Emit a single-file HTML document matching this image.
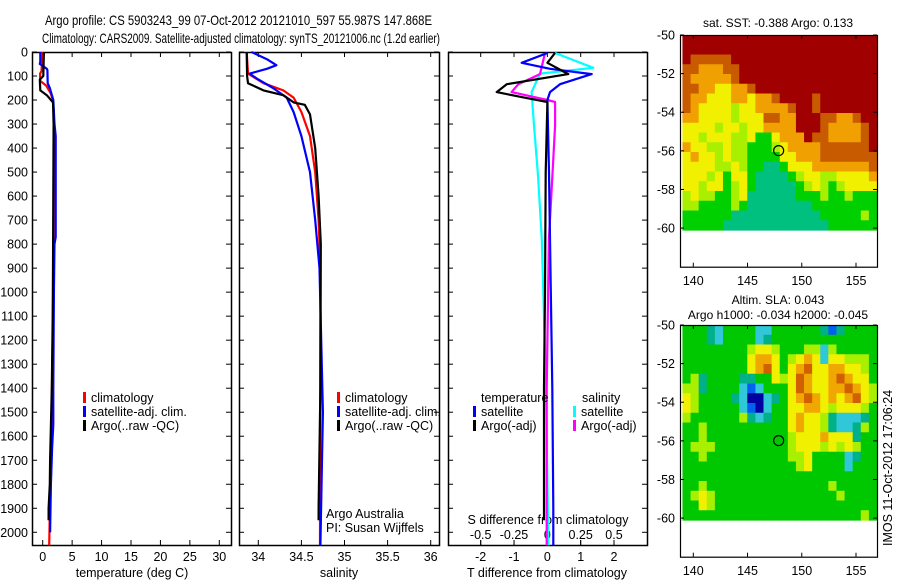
<!DOCTYPE html>
<html><head><meta charset="utf-8">
<style>
html,body{margin:0;padding:0;background:#fff;}
svg{display:block;font-family:"Liberation Sans",sans-serif;}
text{fill:#000;}
</style></head>
<body>
<svg id="fig" width="900" height="580" viewBox="0 0 900 580" xmlns="http://www.w3.org/2000/svg">
<text x="45" y="25" font-size="14" textLength="387" lengthAdjust="spacingAndGlyphs">Argo profile: CS 5903243_99 07-Oct-2012 20121010_597 55.987S 147.868E</text>
<text x="42" y="43" font-size="14" textLength="398" lengthAdjust="spacingAndGlyphs">Climatology: CARS2009. Satellite-adjusted climatology: synTS_20121006.nc (1.2d earlier)</text>
<g id="g"></g>
</svg>
<script>
// ---------- data ----------
var depthTicks=[0,100,200,300,400,500,600,700,800,900,1000,1100,1200,1300,1400,1500,1600,1700,1800,1900,2000];
var tempTicks=[0,5,10,15,20,25,30];
var salTicks=[34,34.5,35,35.5,36];
var tdiffTicks=[-2,-1,0,1,2];
var sdiffTicks=[-0.5,-0.25,0,0.25,0.5];
var sdiffTickLabels=["-0.5","-0.25","0","0.25","0.5"];

var climDepth=[0,80,90,120,140,170,200,260,400,800,1200,1600,2054];
var climTemp=[0.0,-0.2,-0.45,-0.45,0.6,1.3,1.75,1.9,1.9,1.85,1.7,1.45,1.1];
var satDepth=[0,40,50,70,75,130,150,200,300,350,770,800,1000,1400,1550,1650,1800,2000];
var satTemp=[-0.4,-0.4,-0.5,0.7,0.8,0.85,1.2,1.8,2.0,2.2,2.2,2.0,1.9,1.8,1.8,1.6,1.4,1.25];
var argoDepth=[0,100,115,160,180,210,300,600,900,1100,1400,1700,1800,1900,1950];
var argoTemp=[0.2,0.1,-0.5,-0.4,0.7,1.75,1.85,1.8,1.75,1.7,1.55,1.25,1.2,1.0,1.0];

var climSalDepth=[0,90,130,160,190,250,350,500,700,900,2054];
var climSal=[33.865,33.88,34.06,34.29,34.41,34.5,34.6,34.66,34.7,34.72,34.716];
var satSalDepth=[0,30,55,70,90,110,150,190,250,350,500,700,900,1500,2054];
var satSal=[33.92,34.1,34.21,34.1,33.9,33.98,34.17,34.33,34.41,34.5,34.6,34.66,34.71,34.75,34.72];
var argoSalDepth=[0,100,130,150,160,180,210,220,260,400,600,800,1400,1900,1950];
var argoSal=[33.865,33.87,33.88,34.0,34.06,34.29,34.41,34.54,34.6,34.66,34.7,34.725,34.72,34.7,34.7];

var tSatDiffDepth=[4,45,70,92,134,167,200,500,780,1400,1900,2054];
var tSatDiff=[0,-0.77,0.08,1.33,0.38,0.08,0,0.05,0.08,0.15,0.18,0.18];
var tArgoDiffDepth=[4,45,92,134,167,192,208,500,1000,1400,1950];
var tArgoDiff=[0.23,0,0.63,-1.22,-1.52,-0.62,0,-0.05,-0.07,-0.1,-0.1];
var sSatDiffDepth=[4,66,90,167,306,514,780,1400,2054];
var sSatDiff=[0.058,0.345,-0.055,-0.118,-0.1,-0.07,-0.042,-0.01,0.008];
var sArgoDiffDepth=[4,92,134,167,200,208,306,514,780,1400,2054];
var sArgoDiff=[-0.018,-0.055,-0.218,-0.268,0,0.058,0.058,0.038,0.012,-0.005,-0.005];

var mapLonTicks=[140,145,150,155];
var mapLatTicks=[-50,-52,-54,-56,-58,-60];
var argoLon=147.868, argoLat=-55.987;
var sstGrid=[
"RRRRRRRRRRRRRRRRRRRRRRRR","RRRRRRRRRRRRRRRRRRRRRRRR","RBBBBBRRRRRRRRRRRRRRRRRR","BBOOOBBRRRRRRRRRRRRRRRRR",
"BOOOOOBRRRRRRRRRRRRRRRRR","BBOOYYOOBRRRRRRRRRRRRRRR","BOOYYYOOYOOBRRRRBRRRRRRR","BOYYYYLYYOOOOBRRBRRRRRRR",
"OOYYYYLYYYBBOORRRBBOOBRR","YYYYLYYLYYOOOORRRBOOOOBR","YYLYYYLLYGGYOOORBBOOOOBR","OYYLLYLLGGGLYOOOOBBBBBBR",
"YOYYLYLLGGGGYYOOOBBBBBBB","YYYYLLYLGGTTGYYYOOOOOOOB","YYYLYGYYGTTTTGLYYLLYYYYO","YYLYYGLYGTTTTTGLYLGLYYYY",
"LYLLGGLYTTTTTTGGGLGGLGGG","LLGGGGLGTTTTTTTTGGGGGGGG","GGGGGGTTTTTTTTTTTGGGGGLG","GGGGGTTTTTTTTTTTTTGGGGGG"];
var slaGrid=[
"GGGTCGGGGCCGGGGGGTBTGGGG","GGGTCGGGGCTGGGGGGGGGGGGG","GGGGGGGGLYYLGGGLLCLGGGGG","GGGGGGGGYOOYGLYOYCYYLLLG",
"GGGGGGGGYODYGYODYYOOYYLG","GLTGGGGTTGGYLYDOYYODOYYG","LLTGGGGCBCGGGYDOYYOODOYL","YLGGGGTCNNCTGYODOYOYODYL",
"YLGGGGGCBNCGGYYOOYLYYYLG","LGGGGGGLTCTGGYOYYLTCCCTG","GGLGGGGGGGGGGYOYYLTCCTLG","GGLGGGGGGGGGGLYYYOYYYTGG",
"GLLLGGGGGGGGGLYYYLYLYLGG","GGLGGGGGGGGGGLLYGGGGCTGG","GGGGGGGGGGGGGGLYGGGGCGGG","GGGGGGGGGGGGGGGGGGGGGGGG",
"GGLGGGGGGGGGGGGGGGLGGGGG","GLYLGGGGGGGGGGGGGGGLGGGG","GGYLGGGGGGGGGGGGGGGGGGGG","GGGGGGGGGGGGGGGGGGGGGGLG"];

// ---------- helpers ----------
var NS="http://www.w3.org/2000/svg";
var G=document.getElementById('g');
function mk(tag,attrs,parent){var e=document.createElementNS(NS,tag);for(var k in attrs)e.setAttribute(k,attrs[k]);(parent||G).appendChild(e);return e;}
function txt(x,y,s,anchor,size,parent){var t=mk('text',{x:x,y:y,'font-size':size||12,'text-anchor':anchor||'start'},parent);t.textContent=s;return t;}

var PT=52, PB=545;
function yD(d){return PT+d*(532.3-52)/2000;}
function lin(d0,d1,r0,r1){return function(v){return r0+(v-d0)*(r1-r0)/(d1-d0);};}
var xT=lin(0,30,42.7,219.3);
var xS=lin(34,36,258.3,430.7);
var xTd=lin(-2,2,480.7,614);
var xSd=lin(-0.5,0.5,480.7,614);

function panel(name,x0,x1){
  var g=mk('g',{});
  
  
  var r=mk('rect',{x:x0+0.5,y:PT+0.5,width:x1-x0,height:PB-PT,fill:'none',stroke:'#000','stroke-width':1.5},g);
  
  
  depthTicks.forEach(function(d){var y=yD(d);
    mk('line',{x1:x0,x2:x0+5,y1:y,y2:y,stroke:'#000'},g);
    mk('line',{x1:x1-5,x2:x1,y1:y,y2:y,stroke:'#000'},g);});
  return g;
}
function xticks(g,ticks,sc){ticks.forEach(function(v){var x=sc(v);
  mk('line',{x1:x,x2:x,y1:PT,y2:PT+5,stroke:'#000'},g);
  mk('line',{x1:x,x2:x,y1:PB-5,y2:PB,stroke:'#000'},g);});}
function line(g,name,depths,vals,sc,color){
  var pts=depths.map(function(d,i){return sc(vals[i]).toFixed(1)+','+yD(d).toFixed(1);}).join(' ');
  var p=mk('polyline',{points:pts,fill:'none',stroke:color,'stroke-width':2.2,'stroke-linejoin':'round'},g);
  
  
}
function legend(g,x,y,color,label){
  mk('rect',{x:x,y:y-10,width:3,height:11,fill:color},g);
  var t=txt(x+8,y,label,'start',12.5,g);
  
  
}

// depth labels
var yl=mk('g',{});


depthTicks.forEach(function(d){txt(28,yD(d)+4.5,String(d),'end',12.5,yl);});

// ---------- panel 1: temperature ----------
var p1=panel('temperature-panel',32,231);
xticks(p1,tempTicks,xT);
tempTicks.forEach(function(v){txt(xT(v),561,String(v),'middle',12.5,p1);});
var a1=txt(132,577,'temperature (deg C)','middle',12.5,p1);


line(p1,'temp-climatology-line',climDepth,climTemp,xT,'#f00');
line(p1,'temp-satellite-line',satDepth,satTemp,xT,'#00f');
line(p1,'temp-argo-line',argoDepth,argoTemp,xT,'#000');
legend(p1,83,402,'#f00','climatology');
legend(p1,83,416,'#00f','satellite-adj. clim.');
legend(p1,83,430,'#000','Argo(..raw -QC)');

// ---------- panel 2: salinity ----------
var p2=panel('salinity-panel',239,439);
xticks(p2,salTicks,xS);
salTicks.forEach(function(v){txt(xS(v),561,String(v),'middle',12.5,p2);});
var a2=txt(339,577,'salinity','middle',12.5,p2);


line(p2,'sal-climatology-line',climSalDepth,climSal,xS,'#f00');
line(p2,'sal-satellite-line',satSalDepth,satSal,xS,'#00f');
line(p2,'sal-argo-line',argoSalDepth,argoSal,xS,'#000');
legend(p2,337,402,'#f00','climatology');
legend(p2,337,416,'#00f','satellite-adj. clim.');
legend(p2,337,430,'#000','Argo(..raw -QC)');
txt(326,518,'Argo Australia','start',12.5,p2);
txt(326,532,'PI: Susan Wijffels','start',12.5,p2);

// ---------- panel 3: differences ----------
var p3=panel('difference-panel',448,647);
xticks(p3,tdiffTicks,xTd);
tdiffTicks.forEach(function(v){txt(xTd(v),561,String(v),'middle',12.5,p3);});
var a3=txt(547,577,'T difference from climatology','middle',12.5,p3);


sdiffTicks.forEach(function(v,i){var x=xSd(v);mk('line',{x1:x,x2:x,y1:PB-5,y2:PB,stroke:'#000'},p3);txt(x,539,sdiffTickLabels[i],'middle',12.5,p3);});
var a4=txt(548,524,'S difference from climatology','middle',12.5,p3);


line(p3,'s-satellite-diff-line',sSatDiffDepth,sSatDiff,xSd,'#0ff');
line(p3,'s-argo-diff-line',sArgoDiffDepth,sArgoDiff,xSd,'#f0f');
line(p3,'t-satellite-diff-line',tSatDiffDepth,tSatDiff,xTd,'#00f');
line(p3,'t-argo-diff-line',tArgoDiffDepth,tArgoDiff,xTd,'#000');
txt(481,402,'temperature','start',12.5,p3);
legend(p3,473,416,'#00f','satellite');
legend(p3,473,430,'#000','Argo(-adj)');
txt(582,402,'salinity','start',12.5,p3);
legend(p3,573,416,'#0ff','satellite');
legend(p3,573,430,'#f0f','Argo(-adj)');

// ---------- maps ----------
var sstCol={R:'#a00000',B:'#c85a00',O:'#f0a000',Y:'#f0f000',L:'#a8f000',G:'#00d000',T:'#00c080'};
var slaCol={G:'#00c800',L:'#a8f000',Y:'#f0f000',O:'#f0a800',D:'#d06000',C:'#30c8d8',T:'#00b088',B:'#0060f0',N:'#0000a0'};
function map(name,top,grid,cols,title){
  var L=680,R=877,lat2y=lin(-50,-62,top,top+231.7),lon2x=lin(140,155,693.3,856);
  var g=mk('g',{});
  
  
  var x0=lon2x(139),x1=R,y0=lat2y(-50),y1=lat2y(-60.1);
  var nr=grid.length,nc=grid[0].length,cw=(x1-x0)/nc,ch=(y1-y0)/nr;
  for(var r=0;r<nr;r++)for(var c=0;c<nc;c++){
    mk('rect',{x:(x0+c*cw).toFixed(2),y:(y0+r*ch).toFixed(2),width:(cw+0.6).toFixed(2),height:(ch+0.6).toFixed(2),fill:cols[grid[r][c]]},g);
  }
  var fr=mk('rect',{x:L+0.5,y:top+0.5,width:R-L,height:231.7,fill:'none',stroke:'#000','stroke-width':1.2},g);
  
  
  mapLonTicks.forEach(function(v){var x=lon2x(v);
    mk('line',{x1:x,x2:x,y1:top,y2:top+4,stroke:'#000'},g);
    mk('line',{x1:x,x2:x,y1:top+231.7-4,y2:top+231.7,stroke:'#000'},g);
    txt(x,top+250,String(v),'middle',12.5,g);});
  mapLatTicks.forEach(function(v){var y=lat2y(v);
    mk('line',{x1:L,x2:L+4,y1:y,y2:y,stroke:'#000'},g);
    mk('line',{x1:R-4,x2:R,y1:y,y2:y,stroke:'#000'},g);
    txt(L-5,y+4.5,String(v),'end',12.5,g);});
  var c=mk('circle',{cx:lon2x(argoLon),cy:lat2y(argoLat),r:5,fill:'none',stroke:'#000','stroke-width':1.2},g);
  
  
  title.forEach(function(s,i){var y=title.length==1?top-8:top-21+15*i;txt(778,y,s,'middle',12,g);});
  return g;
}
map('sst-map',35,sstGrid,sstCol,['sat. SST: -0.388 Argo: 0.133']);
map('sla-map',325,slaGrid,slaCol,['Altim. SLA: 0.043','Argo h1000: -0.034 h2000: -0.045']);

var st=txt(0,0,'IMOS 11-Oct-2012 17:06:24','start',12.5);
st.setAttribute('transform','translate(892,546) rotate(-90)');


</script>
</body></html>
